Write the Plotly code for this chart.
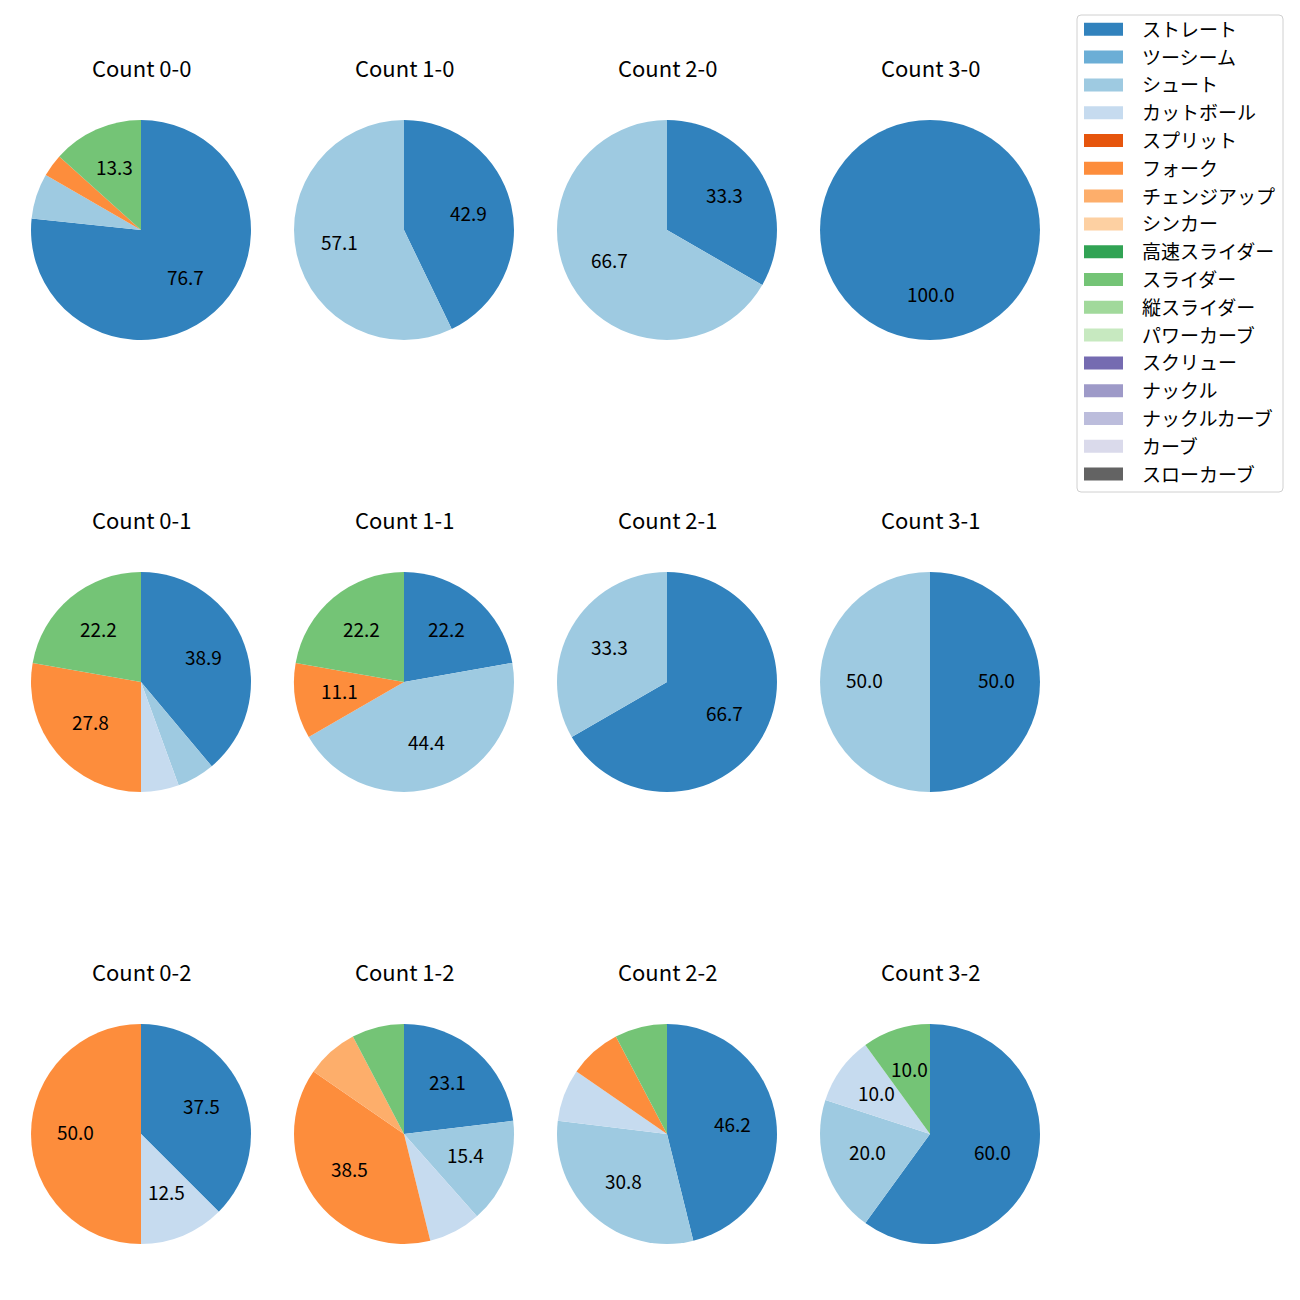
import plotly.graph_objects as go
import math

pitch_types = ["ストレート", "ツーシーム", "シュート", "カットボール", "スプリット", "フォーク",
               "チェンジアップ", "シンカー", "高速スライダー", "スライダー", "縦スライダー",
               "パワーカーブ", "スクリュー", "ナックル", "ナックルカーブ", "カーブ", "スローカーブ"]
colors = ["#3182bd", "#6baed6", "#9ecae1", "#c6dbef", "#e6550d", "#fd8d3c", "#fdae6b", "#fdd0a2",
          "#31a354", "#74c476", "#a1d99b", "#c7e9c0", "#756bb1", "#9e9ac8", "#bcbddc", "#dadaeb",
          "#636363"]

counts = ["0-0", "1-0", "2-0", "3-0",
          "0-1", "1-1", "2-1", "3-1",
          "0-2", "1-2", "2-2", "3-2"]

# pitch counts per ball-strike count
c00 = {"ストレート": 23, "シュート": 2, "フォーク": 1, "スライダー": 4}
c10 = {"ストレート": 3, "シュート": 4}
c20 = {"ストレート": 1, "シュート": 2}
c30 = {"ストレート": 1}
c01 = {"ストレート": 7, "シュート": 1, "カットボール": 1, "フォーク": 5, "スライダー": 4}
c11 = {"ストレート": 2, "シュート": 4, "フォーク": 1, "スライダー": 2}
c21 = {"ストレート": 2, "シュート": 1}
c31 = {"ストレート": 1, "シュート": 1}
c02 = {"ストレート": 3, "カットボール": 1, "フォーク": 4}
c12 = {"ストレート": 3, "シュート": 2, "カットボール": 1, "フォーク": 5, "チェンジアップ": 1, "スライダー": 1}
c22 = {"ストレート": 6, "シュート": 4, "カットボール": 1, "フォーク": 1, "スライダー": 1}
c32 = {"ストレート": 6, "シュート": 2, "カットボール": 1, "スライダー": 1}
data = [c00, c10, c20, c30, c01, c11, c21, c31, c02, c12, c22, c32]

W = H = 1300
OFF = 8  # page body margin
FONT = "Noto Sans CJK JP"
col_cx = [141, 404, 667, 930]
row_cy = [230, 682, 1134]
R = 110


def px(x):
    return (x - OFF) / W


def py(y):
    return 1 - (y - OFF) / H


fig = go.Figure()
annotations = []
shapes = []
cmap = dict(zip(pitch_types, colors))

for i, (cnt, d) in enumerate(zip(counts, data)):
    r, c = divmod(i, 4)
    cx, cy = col_cx[c], row_cy[r]
    labels = [p for p in pitch_types if d.get(p, 0) > 0]
    vals = [d[p] for p in labels]
    fig.add_trace(go.Pie(
        labels=labels, values=vals, sort=False, direction="clockwise", rotation=0,
        marker=dict(colors=[cmap[p] for p in labels], line=dict(width=0)),
        textinfo="none", hoverinfo="label+percent", showlegend=False,
        domain=dict(x=[px(cx - R), px(cx + R)], y=[py(cy + R), py(cy - R)]),
    ))
    total = sum(vals)
    cum = 0
    for v in vals:
        pct = 100 * v / total
        mid = (cum + v / 2) / total * 2 * math.pi
        cum += v
        if pct >= 9.5:
            tx = cx + 0.6 * R * math.sin(mid)
            ty = cy - 0.6 * R * math.cos(mid) - 3
            annotations.append(dict(x=px(tx), y=py(ty), xref="paper", yref="paper",
                                    text=f"{pct:.1f}", showarrow=False,
                                    font=dict(family=FONT, size=19, color="black"),
                                    xanchor="center", yanchor="middle"))
    annotations.append(dict(x=px(cx), y=py(cy - R - 53), xref="paper", yref="paper",
                            text=f"Count {cnt}", showarrow=False,
                            font=dict(family=FONT, size=22, color="black"),
                            xanchor="center", yanchor="middle"))

# legend box
lx0, lx1, ly0, ly1, rr = 1077, 1283, 15, 492, 4
path = (f"M {px(lx0+rr)},{py(ly0)} L {px(lx1-rr)},{py(ly0)} Q {px(lx1)},{py(ly0)} {px(lx1)},{py(ly0+rr)} "
        f"L {px(lx1)},{py(ly1-rr)} Q {px(lx1)},{py(ly1)} {px(lx1-rr)},{py(ly1)} "
        f"L {px(lx0+rr)},{py(ly1)} Q {px(lx0)},{py(ly1)} {px(lx0)},{py(ly1-rr)} "
        f"L {px(lx0)},{py(ly0+rr)} Q {px(lx0)},{py(ly0)} {px(lx0+rr)},{py(ly0)} Z")
shapes.append(dict(type="path", xref="paper", yref="paper", path=path,
                   line=dict(color="#d0d0d0", width=1), fillcolor="rgba(255,255,255,0.8)"))
for k, (p, col) in enumerate(zip(pitch_types, colors)):
    yc = 29.3 + k * 27.8
    shapes.append(dict(type="rect", xref="paper", yref="paper",
                       x0=px(1084), x1=px(1123), y0=py(yc - 6.5), y1=py(yc + 6.5),
                       fillcolor=col, line=dict(width=0)))
    annotations.append(dict(x=px(1140), y=py(yc - 1), xref="paper", yref="paper", text=p,
                            showarrow=False, xanchor="left", yanchor="middle",
                            font=dict(family=FONT, size=19, color="black")))

fig.update_layout(width=W, height=H, margin=dict(l=0, r=0, t=0, b=0),
                  paper_bgcolor="white", plot_bgcolor="white",
                  annotations=annotations, shapes=shapes, showlegend=False,
                  font=dict(family=FONT))
fig.write_html("out.html")
